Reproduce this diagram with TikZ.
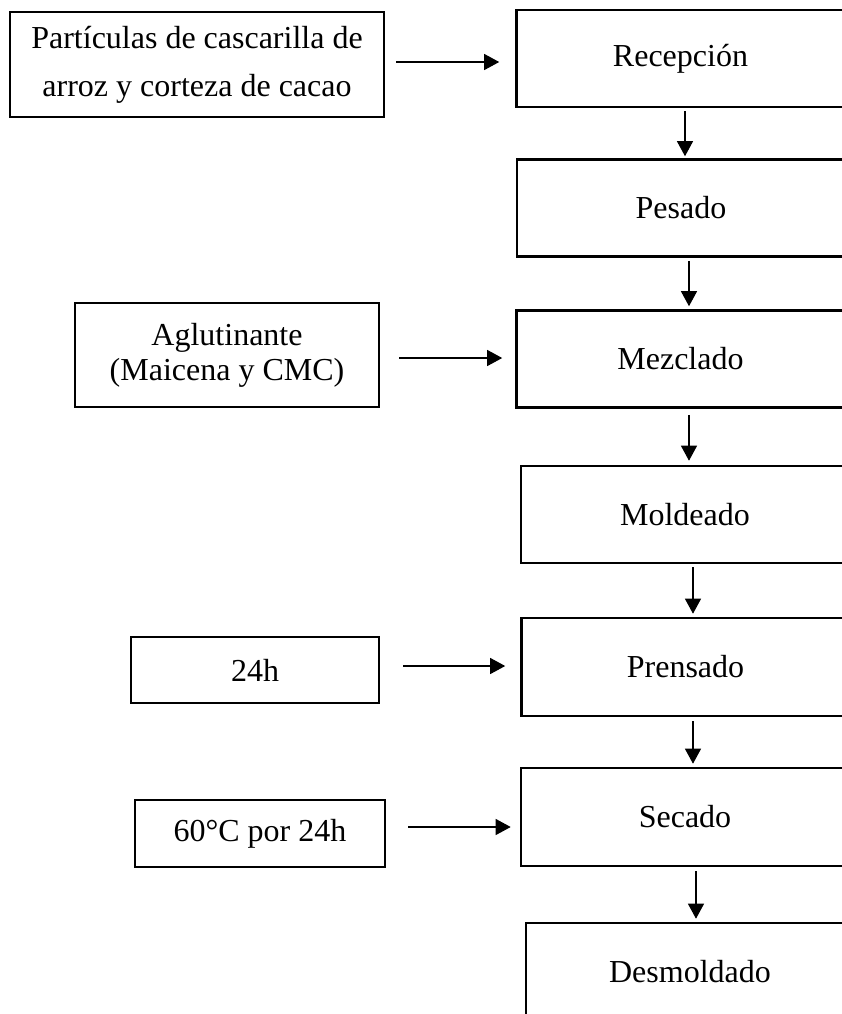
\documentclass[tikz,border=0pt]{standalone}
\usepackage{fontspec}
\setmainfont{Liberation Serif}
\usetikzlibrary{arrows.meta}
\begin{document}
\begin{tikzpicture}[x=0.5pt,y=-0.5pt,
  stage/.style={draw, line width=1.3pt, inner sep=0pt, align=center,
    minimum width=164pt, minimum height=48.5pt,
    font=\fontsize{16}{24}\selectfont},
  feed/.style={stage},
  flow/.style={line width=0.55pt, -{Triangle[length=7.5pt,width=8pt]}}]
\useasboundingbox (0,0) rectangle (842,1014);
\clip (0,0) rectangle (842,1014);
\fill[white] (0,0) rectangle (842,1014);

% process stages (right column, running off the page edge)
\node[stage] (rec) at (680.5,58.5) {Recepción};
\node[stage] (pes) at (681,208) {Pesado};
\node[stage] (mez) at (680.5,359) {Mezclado};
\node[stage] (mol) at (685,514.5) {Moldeado};
\node[stage, minimum height=49pt] (pre) at (685.5,667) {Prensado};
\node[stage, minimum height=49pt] (sec) at (685,817) {Secado};
\node[stage] (des) at (690,971.5) {Desmoldado};

% inputs (left column)
\node[feed, minimum width=187pt, minimum height=52.5pt] (src) at (197,64.5)
  {Partículas de cascarilla de\\arroz y corteza de cacao};
\node[feed, minimum width=152pt, minimum height=52pt,
  font=\fontsize{16}{17.5}\selectfont] (agl) at (227,355)
  {Aglutinante\\(Maicena y CMC)};
\node[feed, minimum width=124pt, minimum height=33pt] (t24) at (255,670) {24h};
\node[feed, minimum width=125pt, minimum height=33.5pt] (dry) at (260,833.5) {60°C por 24h};

% input arrows
\draw[flow, shorten <=5.5pt, shorten >=8pt] ([yshift=1.25pt]src.east) -- ([yshift=1.25pt]src.east -| rec.west);
\draw[flow, shorten <=9.5pt, shorten >=6.5pt] ([yshift=-1.5pt]agl.east) -- ([yshift=-1.5pt]agl.east -| mez.west);
\draw[flow, shorten <=11.5pt, shorten >=7.5pt] ([yshift=2pt]t24.east) -- ([yshift=2pt]t24.east -| pre.west);
\draw[flow, shorten <=11pt, shorten >=4.5pt] ([yshift=3.25pt]dry.east) -- ([yshift=3.25pt]dry.east -| sec.west);

% stage-to-stage arrows
\draw[flow, shorten <=1.5pt, shorten >=1pt] ([xshift=2.25pt]rec.south) -- ([xshift=2.25pt]rec.south |- pes.north);
\draw[flow, shorten <=1.5pt, shorten >=1.5pt] ([xshift=4pt]pes.south) -- ([xshift=4pt]pes.south |- mez.north);
\draw[flow, shorten <=3pt, shorten >=2pt] ([xshift=4.25pt]mez.south) -- ([xshift=4.25pt]mez.south |- mol.north);
\draw[flow, shorten <=1.5pt, shorten >=1.5pt] ([xshift=4pt]mol.south) -- ([xshift=4pt]mol.south |- pre.north);
\draw[flow, shorten <=2pt, shorten >=1.5pt] ([xshift=3.75pt]pre.south) -- ([xshift=3.75pt]pre.south |- sec.north);
\draw[flow, shorten <=2pt, shorten >=1.5pt] ([xshift=5.5pt]sec.south) -- ([xshift=5.5pt]sec.south |- des.north);
\end{tikzpicture}
\end{document}
